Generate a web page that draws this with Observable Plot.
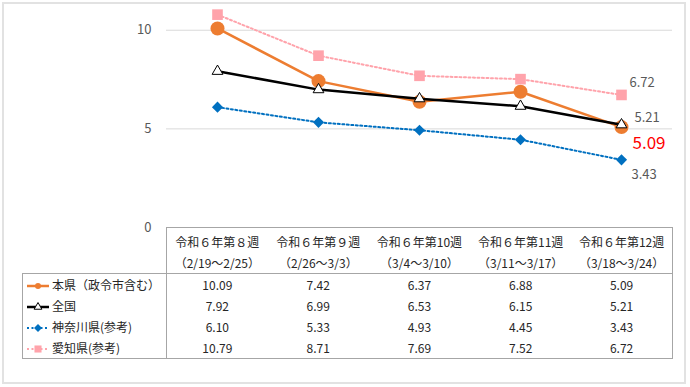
<!DOCTYPE html>
<html><head><meta charset="utf-8">
<script src="https://cdn.jsdelivr.net/npm/d3@7"></script>
<script src="https://cdn.jsdelivr.net/npm/@observablehq/plot@0.6"></script>
<style>
  body{margin:0;background:#fff;font-family:"Noto Sans CJK JP","Noto Sans",sans-serif;}
  #wrap{position:relative;width:690px;height:387px;overflow:hidden;}
  #frame{position:absolute;left:2px;top:2px;width:680px;height:378px;border:2px solid #e2e2e2;}
  #chart{position:absolute;left:0;top:0;}
  #tbl{position:absolute;left:22px;top:227px;border-collapse:collapse;table-layout:fixed;font-size:12px;color:#262626;}
  #tbl td,#tbl th{padding:0;font-weight:normal;}
  #tbl th{height:42px;line-height:21px;padding-top:3px;vertical-align:top;text-align:center;white-space:nowrap;}
  #tbl td{height:21px;line-height:21px;text-align:center;}
  #tbl td.leg{text-align:left;padding-left:4px;white-space:nowrap;}
  #tbl svg{vertical-align:-2px;margin-right:3px;}
</style></head>
<body>
<div id="wrap"><div id="frame"></div><div id="chart"></div><table id="tbl"></table></div>
<script>
const weeks = ["令和６年第８週","令和６年第９週","令和６年第10週","令和６年第11週","令和６年第12週"];
const periods = ["（2/19～2/25）","（2/26～3/3）","（3/4～3/10）","（3/11～3/17）","（3/18～3/24）"];
const seriesNames = ["本県（政令市含む）","全国","神奈川県(参考)","愛知県(参考)"];
const honken = [10.09,7.42,6.37,6.88,5.09];
const zenkoku = [7.92,6.99,6.53,6.15,5.21];
const kanagawa = [6.10,5.33,4.93,4.45,3.43];
const aichi = [10.79,8.71,7.69,7.52,6.72];
const yTicks = [0,5,10];

const allValues = [honken, zenkoku, kanagawa, aichi];
const styles = [
  {color:"#ED7D31", symbol:"circle", r:7, fill:"#ED7D31", stroke:"none", lw:2.5, dash:null},
  {color:"#000000", symbol:"triangle", r:4, fill:"#ffffff", stroke:"#000000", lw:2.5, dash:null},
  {color:"#0070C0", symbol:"diamond2", r:5, fill:"#0070C0", stroke:"none", lw:2, dash:"2,2.5"},
  {color:"#FFA3AB", symbol:"square", r:6, fill:"#FFA3AB", stroke:"none", lw:2, dash:"2,2.5"}
];
const rows = allValues.map(vals => weeks.map((w,i)=>({week:w, value:vals[i]})));

const marks = [
  Plot.ruleY(yTicks.filter(d=>d>0), {stroke:"#d9d9d9", strokeWidth:1}),
  Plot.axisY(yTicks, {tickSize:0, tickPadding:15, fontSize:13, color:"#595959", label:null})
];
rows.forEach((data,k)=>{
  const s = styles[k];
  marks.push(Plot.line(data, {x:"week", y:"value", stroke:s.color, strokeWidth:s.lw, strokeDasharray:s.dash}));
  marks.push(Plot.dot(data, {x:"week", y:"value", symbol:()=>s.symbol, r:s.r, fill:s.fill, stroke:s.stroke, strokeWidth:1}));
});
const last = d => [d[d.length-1]];
marks.push(Plot.text(last(rows[3]), {x:"week", y:"value", text:d=>d.value.toFixed(2), textAnchor:"start", dx:8, dy:-12, fontSize:13, fill:"#595959"}));
marks.push(Plot.text(last(rows[1]), {x:"week", y:"value", text:d=>d.value.toFixed(2), textAnchor:"start", dx:13, dy:-7, fontSize:13, fill:"#595959"}));
marks.push(Plot.text(last(rows[0]), {x:"week", y:"value", text:d=>d.value.toFixed(2), textAnchor:"start", dx:11, dy:16, fontSize:17, fill:"#FF0000"}));
marks.push(Plot.text(last(rows[2]), {x:"week", y:"value", text:d=>d.value.toFixed(2), textAnchor:"start", dx:10, dy:15, fontSize:13, fill:"#595959"}));

const chart = Plot.plot({
  width:690, height:387,
  marginLeft:166, marginRight:18, marginTop:10, marginBottom:160,
  style:{fontFamily:"'Noto Sans CJK JP','Noto Sans',sans-serif", background:"transparent", overflow:"visible"},
  x:{type:"point", domain:weeks, padding:0.5, axis:null},
  y:{domain:[0,11]},
  marks
});
document.getElementById("chart").appendChild(chart);

// data table below the plot area
const bc = "1px solid #a6a6a6";
const tbl = d3.select("#tbl");
const cg = tbl.append("colgroup");
cg.append("col").style("width","144px");
weeks.forEach(()=>cg.append("col").style("width","101.2px"));
const hr = tbl.append("tr");
hr.append("th");
weeks.forEach((w,i)=>{
  const th = hr.append("th").style("border-top",bc).style("border-bottom",bc);
  if(i===0) th.style("border-left",bc);
  if(i===weeks.length-1) th.style("border-right",bc);
  th.append("div").text(w);
  th.append("div").text(periods[i]);
});
allValues.forEach((vals,k)=>{
  const s = styles[k];
  const tr = tbl.append("tr");
  const td = tr.append("td").attr("class","leg").style("border-left",bc).style("border-right",bc);
  if(k===0) td.style("border-top",bc);
  if(k===allValues.length-1) td.style("border-bottom",bc);
  const sv = td.append("svg").attr("width",22).attr("height",12);
  sv.append("line").attr("x1",0).attr("x2",22).attr("y1",6).attr("y2",6)
    .attr("stroke",s.color).attr("stroke-width",s.lw).attr("stroke-dasharray",s.dash);
  const sym = {circle:d3.symbolCircle, triangle:d3.symbolTriangle, diamond2:d3.symbolDiamond2, square:d3.symbolSquare}[s.symbol];
  sv.append("path").attr("transform","translate(11,6)")
    .attr("d", d3.symbol(sym, s.symbol==="circle"?28:(s.symbol==="triangle"?26:(s.symbol==="square"?50:40)))())
    .attr("fill",s.fill).attr("stroke",s.stroke==="none"?null:s.stroke).attr("stroke-width",1);
  td.append("span").text(seriesNames[k]);
  vals.forEach((v,i)=>{
    const c = tr.append("td").text(v.toFixed(2));
    if(i===vals.length-1) c.style("border-right",bc);
    if(k===allValues.length-1) c.style("border-bottom",bc);
  });
});
</script>
</body></html>
